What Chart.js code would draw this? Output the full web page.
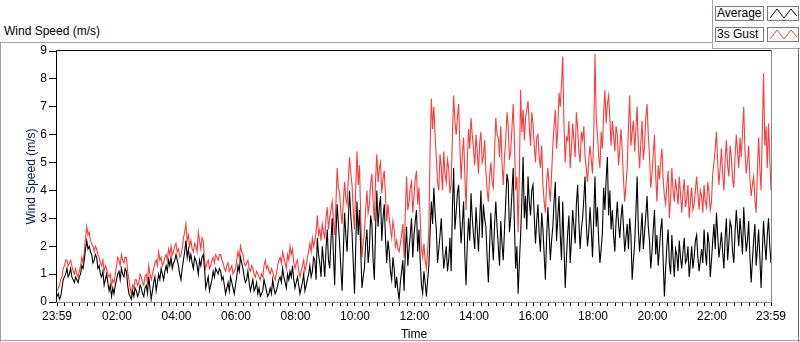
<!DOCTYPE html>
<html lang="en">
<head>
<meta charset="UTF-8">
<title>wind speed</title>
<script src="https://cdn.jsdelivr.net/npm/chart.js"></script>
<style>
    body { margin: 0; background: #fff; font-family: "Liberation Sans", Arial, sans-serif; }
    #wrap { position: relative; width: 800px; height: 342px; overflow: hidden; }
    #myChart { position: absolute; left: 0; top: 0; }
    .ln { position: absolute; background: #a0a0a0; }
    .caption { position: absolute; left: 4px; top: 24px; font-size: 12px; color: #000; }
    .lgBox { position: absolute; height: 13px; border: 1px solid #7a7a7a; background: #fff;
             font-size: 12px; line-height: 13px; color: #000; padding-left: 1px; }
</style>
</head>
<body>
<div id="wrap">
    <div class="caption">Wind Speed (m/s)</div>
    <!-- frame -->
    <div class="ln" style="left:0;top:42px;width:712px;height:1px"></div>
    <div class="ln" style="left:712px;top:0;width:1px;height:48px"></div>
    <div class="ln" style="left:712px;top:48px;width:88px;height:1px"></div>
    <div class="ln" style="left:0;top:42px;width:1px;height:300px"></div>
    <div class="ln" style="left:0;top:340px;width:800px;height:1px"></div>
    <div class="ln" style="left:798px;top:48px;width:1px;height:294px;background:#707070"></div>
    <!-- legend -->
    <div class="lgBox" style="left:715px;top:6px;width:46px">Average</div>
    <div class="lgBox" style="left:767px;top:6px;width:30px;padding:0">
        <svg width="30" height="13"><polyline points="2,11 9,2 16,11 23,2 29,9" fill="none" stroke="#000" stroke-width="1"/></svg>
    </div>
    <div class="lgBox" style="left:715px;top:27px;width:46px">3s Gust</div>
    <div class="lgBox" style="left:767px;top:27px;width:30px;padding:0">
        <svg width="30" height="13"><polyline points="2,11 9,2 16,11 23,2 29,9" fill="none" stroke="#ff3b3b" stroke-width="1"/></svg>
    </div>
    <canvas id="myChart" width="800" height="342"></canvas>
</div>

<script>
    // one sample every 2.5 minutes, from 23:59 (minute 0) to 23:59 next day (minute 1440)
    var stepMinutes = 2.5;

    // one row per hour
    var average = [
        0.2,0.3,0.1,0.2,0.5,0.8,0.9,1.0,1.2,0.9,1.0,1.2,0.9,0.8,0.7,0.9,0.8,0.7,0.9,1.0,1.3,1.2,1.5,1.9,
        2.2,1.9,2.0,1.8,1.7,1.4,1.5,1.7,1.6,1.2,1.3,1.0,0.9,1.1,0.6,0.8,1.0,0.7,0.4,0.6,0.2,0.5,0.3,0.6,
        0.8,1.0,1.1,0.8,1.2,1.0,0.9,1.2,1.1,0.6,0.3,0.2,0.1,0.4,0.2,0.5,0.4,0.2,0.3,0.6,0.5,0.3,0.2,0.5,
        0.6,0.3,0.9,0.5,0.1,0.4,0.7,0.9,0.4,0.7,1.0,0.8,1.2,1.0,0.8,1.1,1.3,1.1,1.5,1.3,1.6,1.2,1.4,1.5,
        1.7,1.5,1.3,1.0,0.8,1.2,1.5,1.8,2.2,1.6,1.9,1.5,1.7,1.4,1.2,1.6,1.5,1.3,1.0,1.5,1.3,1.6,1.7,1.2,
        0.5,0.7,0.9,0.4,0.6,0.8,1.1,0.9,1.2,1.1,1.0,1.2,1.1,0.8,0.9,0.6,0.3,0.5,0.7,0.4,0.9,0.7,0.5,0.3,
        0.6,0.9,1.3,1.1,1.6,1.4,1.2,0.9,0.7,0.8,1.1,0.7,0.4,0.6,0.8,0.4,0.5,0.7,0.3,0.5,0.2,0.3,0.4,0.8,
        0.6,0.4,0.2,0.3,0.5,0.3,0.8,0.5,0.3,0.4,0.6,0.8,0.9,0.7,1.2,0.9,0.7,0.5,1.0,0.8,1.1,0.9,1.3,0.8,
        0.5,0.7,0.9,0.6,0.3,0.5,0.7,1.0,0.4,0.6,0.8,1.0,1.3,0.9,1.1,1.6,1.5,0.8,2.3,1.7,1.4,0.9,2.0,1.5,
        0.9,1.9,2.6,1.5,1.2,2.2,3.0,1.7,0.6,2.4,3.5,2.8,2.1,1.2,0.4,1.8,3.2,2.4,1.8,2.9,4.0,3.1,2.5,1.4,
        0.3,2.0,3.6,2.4,3.3,1.9,0.5,0.9,1.2,2.1,2.6,1.4,1.9,3.1,2.8,1.5,0.8,2.6,4.0,2.7,3.4,3.8,2.2,3.0,
        3.5,2.3,1.4,2.2,1.8,1.1,0.8,1.6,1.2,0.5,0.9,0.4,0.1,0.7,1.1,1.5,0.4,1.8,2.7,1.3,1.9,2.4,3.0,1.6,
        2.4,2.9,3.3,1.8,2.6,1.5,0.6,0.3,1.1,0.7,0.2,0.8,1.3,2.5,3.6,2.8,4.1,3.2,2.6,1.4,1.9,2.4,3.0,2.0,
        1.2,1.6,2.0,1.1,1.5,2.3,1.1,3.4,4.8,2.6,3.2,3.9,4.2,3.0,2.1,2.8,3.6,1.7,0.6,2.1,3.0,2.2,3.9,3.0,
        2.4,1.9,3.4,2.6,1.8,2.9,4.0,2.3,3.5,3.0,2.7,1.6,0.7,2.0,3.2,2.2,1.5,2.8,3.6,2.7,2.0,1.3,2.9,2.1,
        1.5,2.6,3.6,4.6,4.3,2.5,3.0,3.9,4.8,2.8,1.2,2.0,0.3,1.4,2.4,3.6,5.2,3.0,3.8,2.6,4.5,3.6,3.1,4.0,
        4.2,3.1,2.1,2.9,3.5,2.4,1.8,3.2,2.6,1.7,0.8,2.3,3.4,2.5,1.5,2.2,2.7,3.6,4.3,2.2,3.0,3.8,2.4,1.5,
        3.6,2.0,0.5,1.6,2.5,3.1,1.4,2.2,3.3,2.7,2.1,3.5,4.2,2.9,1.9,2.6,3.0,3.7,4.5,2.8,2.0,2.5,3.4,2.6,
        1.6,3.0,4.5,2.7,3.4,2.2,1.4,1.9,2.5,4.1,3.3,4.4,5.2,3.1,4.0,2.6,3.3,2.4,1.8,2.9,3.6,2.8,2.3,3.0,
        3.5,2.7,1.8,2.3,2.8,1.9,3.0,2.4,0.8,1.5,2.1,3.2,4.5,2.6,1.8,2.5,3.2,1.9,2.5,3.1,3.8,2.7,2.2,1.2,
        1.8,2.6,3.3,1.7,2.4,1.3,1.9,2.6,3.0,1.5,0.2,1.2,2.0,2.6,1.4,1.0,2.4,1.6,0.9,1.9,1.7,1.1,2.2,1.6,
        1.2,1.8,2.3,1.4,1.5,2.0,0.9,1.4,2.0,1.2,1.6,2.2,2.4,1.6,1.1,1.5,1.9,1.4,2.6,1.8,1.3,2.5,2.1,0.9,
        1.5,2.2,2.8,1.9,3.2,2.4,1.6,2.0,2.5,1.8,1.2,2.3,3.0,1.5,2.1,2.9,2.7,1.8,1.4,2.5,3.3,2.6,2.0,3.0,
        2.4,1.7,3.4,2.5,1.8,2.2,2.9,1.6,0.7,1.5,2.2,2.8,1.3,1.9,2.6,1.6,0.5,1.8,2.9,2.1,1.5,2.4,3.0,2.0,1.4
    ];

    var gust = [
        0.4,0.5,0.6,0.8,0.9,1.2,1.3,1.5,1.5,1.3,1.4,1.5,1.3,1.1,1.0,1.2,1.0,0.9,1.1,1.3,1.6,1.4,1.8,2.3,
        2.7,2.4,2.5,2.2,2.1,2.0,1.8,2.0,1.9,1.7,1.6,1.4,1.3,1.5,1.1,1.3,1.2,1.0,0.9,1.0,0.6,0.8,0.7,1.0,
        1.3,1.6,1.5,1.3,1.7,1.5,1.4,1.6,1.6,1.1,0.8,0.5,0.3,0.6,0.5,0.8,0.8,0.6,0.7,1.0,0.9,0.7,0.6,0.9,
        1.0,0.7,1.3,1.0,0.8,1.0,1.2,1.4,1.5,1.3,1.8,1.5,1.6,1.3,1.4,1.6,1.7,1.5,1.9,1.7,2.0,1.7,1.8,2.0,
        2.1,1.8,1.9,1.6,1.7,1.9,2.3,2.5,2.8,2.2,2.4,2.0,2.2,1.9,1.8,2.1,2.0,1.8,2.5,2.2,1.9,2.3,2.2,1.5,
        1.2,1.4,1.5,1.2,1.3,1.5,1.6,1.4,1.7,1.6,1.5,1.7,1.7,1.5,1.4,1.2,1.1,1.3,1.4,1.1,1.2,1.3,1.0,1.1,
        1.2,1.5,1.8,1.6,2.0,1.8,1.7,1.4,1.3,1.4,1.5,1.2,1.1,1.3,1.2,1.0,0.9,1.1,1.0,0.9,0.8,1.0,0.9,1.3,
        1.5,1.2,1.3,1.1,1.0,1.2,1.1,0.9,0.8,1.0,1.3,1.5,1.6,1.4,1.8,1.6,1.4,1.2,1.7,1.5,2.0,1.7,1.9,1.4,
        1.2,1.4,1.5,1.1,0.9,1.1,1.3,1.5,1.1,1.3,1.6,1.8,2.1,1.8,2.3,2.0,2.2,2.5,3.1,2.4,2.6,2.2,2.8,2.5,
        2.3,3.0,3.4,2.6,3.0,3.3,3.6,2.9,2.4,3.5,4.8,4.1,3.9,3.2,2.8,3.6,4.3,3.7,3.5,4.4,5.2,4.6,4.2,3.3,
        2.6,4.1,5.4,4.2,4.9,3.1,1.6,2.1,2.5,3.3,4.0,3.2,3.5,4.2,4.6,3.6,2.9,4.4,5.3,4.3,4.8,5.0,3.9,4.4,
        4.7,3.8,2.9,3.5,3.0,2.6,2.3,2.9,2.6,2.0,2.2,1.9,1.8,2.1,2.4,2.8,1.6,3.2,4.5,3.3,3.6,4.1,4.3,3.2,
        3.8,4.4,4.7,3.5,4.1,3.0,1.9,1.6,2.1,1.5,1.2,1.8,2.6,5.5,7.3,6.2,7.0,6.0,5.2,4.3,4.0,5.3,4.8,4.0,
        5.4,4.6,4.3,5.1,4.8,3.9,4.2,6.0,7.4,6.5,6.0,6.6,7.1,5.6,4.4,5.3,5.9,4.6,3.3,5.0,6.2,5.5,6.6,6.0,
        5.5,4.9,6.0,5.4,4.6,5.7,6.1,5.0,5.2,5.8,4.7,4.0,3.6,4.5,5.0,4.3,4.1,5.4,6.6,6.0,5.9,5.2,6.3,5.0,
        4.2,5.2,5.8,6.8,6.3,5.1,5.4,6.2,7.1,5.8,4.0,4.5,2.5,4.6,7.6,6.1,6.9,5.8,6.6,6.9,7.2,6.3,5.6,6.8,
        6.4,5.6,5.0,5.9,6.0,5.2,4.8,5.6,4.2,3.6,3.2,4.3,4.8,4.1,3.6,4.6,5.6,6.3,6.9,5.5,6.2,7.5,7.0,7.8,
        8.8,6.3,5.0,5.9,5.8,6.5,4.8,5.5,6.4,5.8,5.2,6.8,6.2,5.4,5.0,6.1,5.8,6.3,5.2,4.8,4.3,5.1,5.6,5.1,
        4.6,6.0,8.9,6.6,6.0,5.2,4.8,6.1,5.5,6.8,7.6,6.4,7.1,7.4,6.6,5.6,6.5,6.0,5.4,6.3,6.0,4.9,5.5,6.2,
        5.4,4.4,3.6,4.2,4.8,6.3,7.4,5.6,6.1,6.5,5.4,6.2,7.0,5.6,4.8,5.7,6.5,5.1,5.6,6.6,7.1,6.0,5.2,4.1,
        4.6,5.3,6.0,4.5,3.6,4.9,4.4,5.0,5.5,4.4,3.8,3.5,4.2,4.7,3.0,3.7,4.8,4.0,3.6,4.4,4.0,3.5,4.5,3.9,
        3.2,3.9,4.4,3.4,3.7,4.2,3.0,3.6,4.1,3.3,3.5,4.0,4.5,3.9,3.3,4.0,3.8,3.2,4.2,3.6,3.4,4.3,3.9,3.3,
        3.6,4.6,5.0,5.5,6.1,5.0,4.2,4.8,5.5,4.6,4.0,5.1,5.8,4.9,4.5,5.6,5.2,4.4,4.1,5.2,6.0,5.4,4.8,5.9,
        5.2,6.1,7.0,5.4,4.6,5.0,5.6,4.4,3.8,4.2,4.5,3.7,3.2,4.6,5.9,4.8,4.0,6.1,8.2,5.6,6.3,4.8,6.4,5.2,4.0
    ];

    // x tick labels (minutes after the 23:59 start)
    var timeLabels = ['23:59', '02:00', '04:00', '06:00', '08:00', '10:00', '12:00',
                      '14:00', '16:00', '18:00', '20:00', '22:00', '23:59'];
    var timeTicks = [0, 121, 241, 361, 481, 601, 721, 841, 961, 1081, 1201, 1321, 1440];

    function toPoints(arr) {
        return arr.map(function (v, i) { return {x: i * stepMinutes, y: v}; });
    }

    // minor ticks every 15 minutes (quarter hours) plus the labelled ones
    var allTicks = timeTicks.slice();
    for (var m = 16; m < 1440; m += 15) {
        if (allTicks.indexOf(m) < 0) allTicks.push(m);
    }
    allTicks.sort(function (a, b) { return a - b; });

    // plot frame: black top/left, gray right/bottom
    var framePlugin = {
        id: 'frame',
        afterDraw: function (chart) {
            var a = chart.chartArea, ctx = chart.ctx;
            ctx.save();
            ctx.lineWidth = 1;
            ctx.strokeStyle = '#000';
            ctx.beginPath();
            ctx.moveTo(a.left - 0.5, a.bottom);
            ctx.lineTo(a.left - 0.5, a.top - 0.5);
            ctx.lineTo(a.right + 0.5, a.top - 0.5);
            ctx.stroke();
            ctx.strokeStyle = '#8a8a8a';
            ctx.beginPath();
            ctx.moveTo(a.right + 0.5, a.top);
            ctx.lineTo(a.right + 0.5, a.bottom + 0.5);
            ctx.lineTo(a.left - 1, a.bottom + 0.5);
            ctx.stroke();
            ctx.restore();
        }
    };

    var font = {family: '"Liberation Sans", Arial, sans-serif', size: 12};

    var ctx = document.getElementById('myChart').getContext('2d');
    var myChart = new Chart(ctx, {
        type: 'line',
        data: {
            datasets: [{
                label: 'Average',
                data: toPoints(average),
                borderColor: '#000',
                borderWidth: 1.1,
                pointRadius: 0,
                tension: 0
            }, {
                label: '3s Gust',
                data: toPoints(gust),
                borderColor: '#ff3b3b',
                borderWidth: 1.1,
                pointRadius: 0,
                tension: 0
            }]
        },
        options: {
            responsive: false,
            animation: false,
            layout: {padding: {left: 0, top: 51, right: 29, bottom: 0}},
            plugins: {legend: {display: false}, tooltip: {enabled: false}},
            scales: {
                x: {
                    type: 'linear',
                    min: 0,
                    max: 1440,
                    afterFit: function (s) { s.height = 40; },
                    afterBuildTicks: function (s) {
                        s.ticks = allTicks.map(function (v) { return {value: v}; });
                    },
                    ticks: {
                        autoSkip: false,
                        maxRotation: 0,
                        padding: 3,
                        color: '#000',
                        font: font,
                        callback: function (v) {
                            var k = timeTicks.indexOf(v);
                            return k >= 0 ? timeLabels[k] : '';
                        }
                    },
                    grid: {drawOnChartArea: false, tickLength: 4, color: '#000'},
                    border: {display: false},
                    title: {display: true, text: 'Time', color: '#000', font: font, padding: {top: 0, bottom: 0}}
                },
                y: {
                    min: 0,
                    max: 9,
                    afterFit: function (s) { s.width = 57; },
                    ticks: {stepSize: 1, padding: 2, color: '#000', font: font},
                    grid: {drawOnChartArea: false, tickLength: 8, color: '#000'},
                    border: {display: false},
                    title: {display: true, text: 'Wind Speed (m/s)', color: '#0a1a4a', font: font, padding: {top: 24, bottom: 0}}
                }
            }
        },
        plugins: [framePlugin]
    });
</script>
</body>
</html>
